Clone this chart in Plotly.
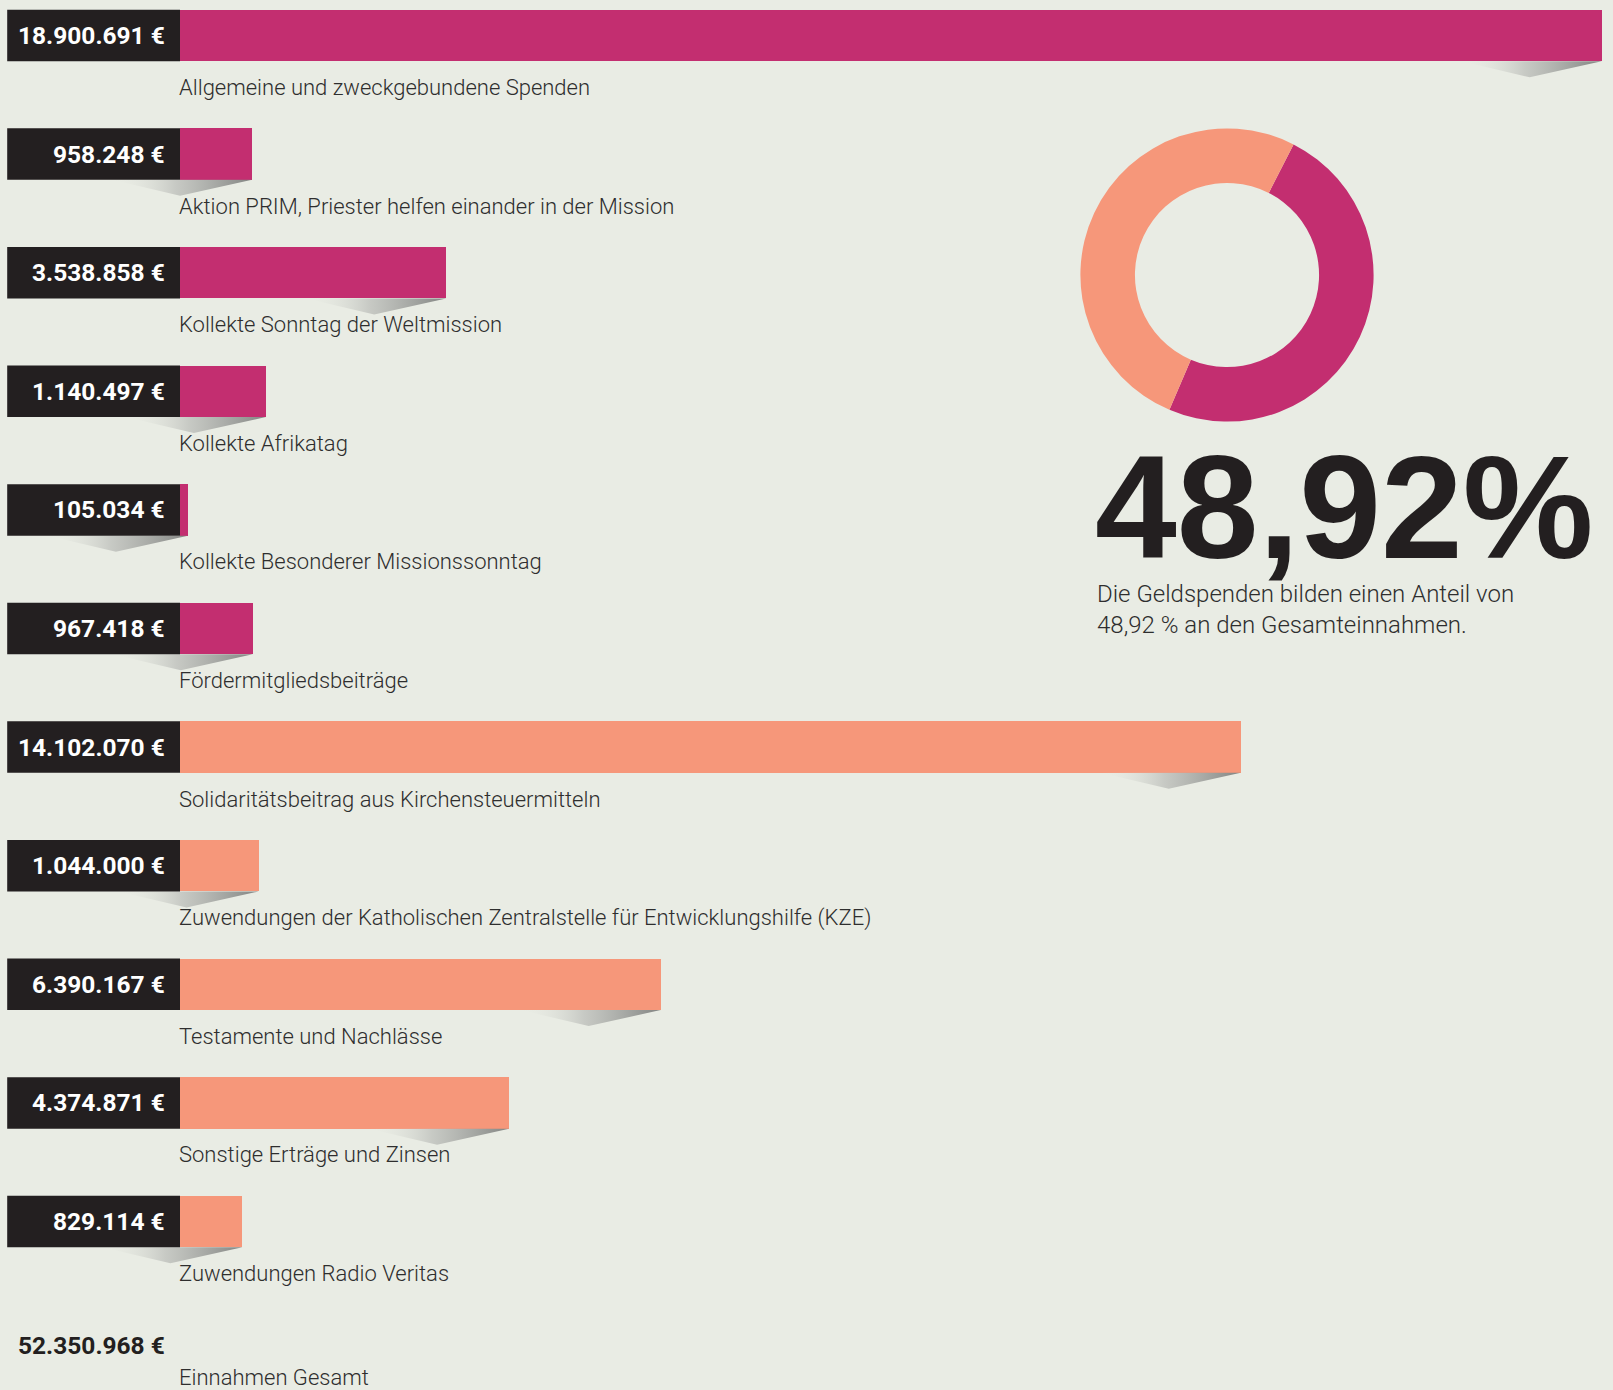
import plotly.graph_objects as go

# ---------------- data ----------------
categories = [
    "Allgemeine und zweckgebundene Spenden",
    "Aktion PRIM, Priester helfen einander in der Mission",
    "Kollekte Sonntag der Weltmission",
    "Kollekte Afrikatag",
    "Kollekte Besonderer Missionssonntag",
    "Fördermitgliedsbeiträge",
    "Solidaritätsbeitrag aus Kirchensteuermitteln",
    "Zuwendungen der Katholischen Zentralstelle für Entwicklungshilfe (KZE)",
    "Testamente und Nachlässe",
    "Sonstige Erträge und Zinsen",
    "Zuwendungen Radio Veritas",
]
values = [18900691, 958248, 3538858, 1140497, 105034, 967418,
          14102070, 1044000, 6390167, 4374871, 829114]
value_labels = ["18.900.691 €", "958.248 €", "3.538.858 €", "1.140.497 €",
                "105.034 €", "967.418 €", "14.102.070 €", "1.044.000 €",
                "6.390.167 €", "4.374.871 €", "829.114 €"]
is_donation = [True, True, True, True, True, True,
               False, False, False, False, False]
total_value_label = "52.350.968 €"
total_name = "Einnahmen Gesamt"
share_big = "48,92%"
share_text = "Die Geldspenden bilden einen Anteil von<br>48,92 % an den Gesamteinnahmen."
donut_labels = ["Geldspenden", "Sonstige Einnahmen"]

# ---------------- style ----------------
W, H = 1613, 1390
BG = "#E9ECE4"
MAGENTA = "#C32E70"
SALMON = "#F6977A"
DARK = "#231F20"
TEXT = "#2E2E2E"

BAR_X0_PX = 180.0          # pixel where value 0 sits
MAX_BAR_END_PX = 1601.7    # pixel where the largest bar ends
ROW_PX = 118.6             # row pitch in pixels
FIRST_ROW_PX = 35.5        # centre of first bar in pixels
BAR_H_PX = 51.5

k = (MAX_BAR_END_PX - BAR_X0_PX) / max(values)   # px per €
x_range = [-BAR_X0_PX / k, (W - BAR_X0_PX) / k]
y_top = -FIRST_ROW_PX / ROW_PX
y_bot = (H - FIRST_ROW_PX) / ROW_PX
half = BAR_H_PX / ROW_PX / 2

n = len(categories)
idx = list(range(n))
colors = [MAGENTA if d else SALMON for d in is_donation]

fig = go.Figure()

# shadows (curl) under bar ends
for i, v in enumerate(values):
    xe = v
    yb = i + half
    xs = [xe, xe - 72 / k, xe - 140 / k, xe]
    ys = [yb, yb + 16 / ROW_PX, yb, yb]
    fig.add_trace(go.Scatter(
        x=xs, y=ys, mode="lines", fill="toself",
        line=dict(width=0, color="rgba(0,0,0,0)"),
        fillgradient=dict(type="horizontal",
                          colorscale=[[0, "rgba(233,236,228,0)"],
                                      [0.45, "rgba(185,187,183,0.7)"],
                                      [1, "rgba(125,127,125,0.95)"]]),
        hoverinfo="skip", showlegend=False))

# bars
fig.add_trace(go.Bar(
    x=values, y=idx, orientation="h", base=0,
    width=2 * half, marker=dict(color=colors, line=dict(width=0)),
    hoverinfo="skip", showlegend=False))

# donut
don_vals = [sum(v for v, d in zip(values, is_donation) if d),
            sum(v for v, d in zip(values, is_donation) if not d)]
cx, cy, r = 1227.0, 275.0, 146.6
fig.add_trace(go.Pie(
    labels=donut_labels, values=don_vals, hole=0.628, sort=False,
    direction="clockwise", rotation=27,
    marker=dict(colors=[MAGENTA, SALMON], line=dict(width=0)),
    textinfo="none", hoverinfo="skip", showlegend=False,
    domain=dict(x=[(cx - r) / W, (cx + r) / W],
                y=[(H - cy - r) / H, (H - cy + r) / H])))

shapes = []
annotations = []
for i in idx:
    shapes.append(dict(type="rect", xref="paper", yref="y",
                       x0=7.2 / W, x1=BAR_X0_PX / W,
                       y0=i - half, y1=i + half,
                       fillcolor=DARK, line=dict(width=0), layer="above"))
    annotations.append(dict(text=f"<b>{value_labels[i]}</b>", xref="paper", yref="y",
                            x=167 / W, y=i, xanchor="right", yanchor="middle",
                            showarrow=False,
                            font=dict(family="Roboto", size=24.5, color="white")))
    annotations.append(dict(text=categories[i], xref="paper", yref="y",
                            x=(BAR_X0_PX - 3) / W, y=i + 52 / ROW_PX,
                            xanchor="left", yanchor="middle", showarrow=False,
                            font=dict(family="Roboto", size=22, color=TEXT, weight=300)))

# total row
annotations.append(dict(text=f"<b>{total_value_label}</b>", xref="paper", yref="y",
                        x=167 / W, y=n + 5.5 / ROW_PX, xanchor="right", yanchor="middle",
                        showarrow=False,
                        font=dict(family="Roboto", size=24.5, color=DARK)))
annotations.append(dict(text=total_name, xref="paper", yref="y",
                        x=(BAR_X0_PX - 3) / W, y=n + 37 / ROW_PX,
                        xanchor="left", yanchor="middle", showarrow=False,
                        font=dict(family="Roboto", size=22, color=TEXT, weight=300)))

# big share number
annotations.append(dict(text=f"<b>{share_big}</b>", xref="paper", yref="paper",
                        x=1093 / W, y=1 - 507 / H, xanchor="left", yanchor="middle",
                        showarrow=False,
                        font=dict(family="Liberation Sans", size=147, color=DARK)))
annotations.append(dict(text=share_text, xref="paper", yref="paper",
                        x=1095 / W, y=1 - 609 / H, xanchor="left", yanchor="middle",
                        align="left", showarrow=False,
                        font=dict(family="Roboto", size=24, color=TEXT, weight=300)))

fig.update_layout(
    width=W, height=H,
    margin=dict(l=0, r=0, t=0, b=0),
    paper_bgcolor=BG, plot_bgcolor=BG,
    xaxis=dict(range=x_range, visible=False, fixedrange=True),
    yaxis=dict(range=[y_bot, y_top], visible=False, fixedrange=True),
    shapes=shapes, annotations=annotations,
    bargap=0,
)

fig.write_html("out.html",
               config={"displayModeBar": False, "staticPlot": True},
               post_script="document.body.style.margin='0';"
                           "document.body.style.background='" + BG + "';")
